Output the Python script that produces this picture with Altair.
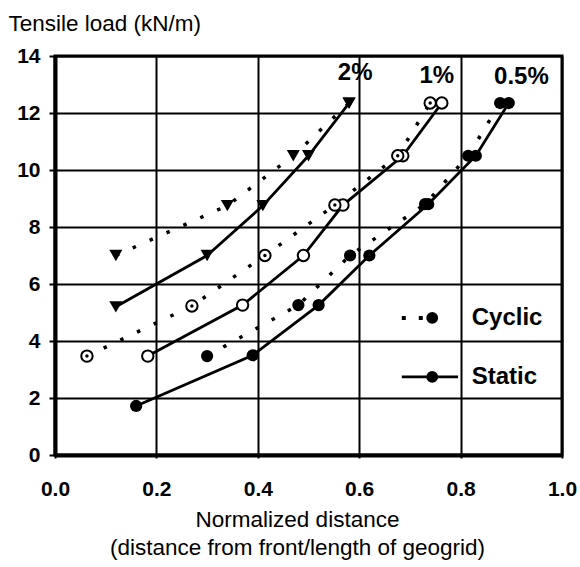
import altair as alt
import pandas as pd

# ---- data ----
# Static tests (solid lines)
static_2_x = [0.12, 0.30, 0.41, 0.50, 0.58]
static_2_y = [5.2, 7.0, 8.75, 10.5, 12.35]
static_1_x = [0.183, 0.37, 0.49, 0.568, 0.686, 0.763]
static_1_y = [3.47, 5.26, 7.0, 8.77, 10.5, 12.35]
static_05_x = [0.16, 0.39, 0.52, 0.62, 0.736, 0.83, 0.895]
static_05_y = [1.72, 3.5, 5.26, 7.0, 8.8, 10.5, 12.35]

# Cyclic tests (dotted lines)
cyclic_2_x = [0.12, 0.34, 0.47, 0.58]
cyclic_2_y = [7.0, 8.75, 10.5, 12.35]
cyclic_1_x = [0.063, 0.27, 0.414, 0.552, 0.676, 0.74]
cyclic_1_y = [3.47, 5.23, 7.0, 8.77, 10.5, 12.35]
cyclic_05_x = [0.30, 0.48, 0.582, 0.73, 0.815, 0.878]
cyclic_05_y = [3.47, 5.26, 7.0, 8.8, 10.5, 12.35]

strain_labels = ["2%", "1%", "0.5%"]
strain_label_x = [0.592, 0.753, 0.92]
strain_label_y = [13.4, 13.3, 13.25]

legend_names = ["Cyclic", "Static"]
legend_y = [4.81, 2.74]
legend_line_x0 = [0.684, 0.684]
legend_line_x1 = [0.744, 0.795]
legend_dot_x = [0.744, 0.744]
legend_text_x = [0.822, 0.822]

x_ticks = [0.0, 0.2, 0.4, 0.6, 0.8, 1.0]
y_ticks = [0, 2, 4, 6, 8, 10, 12, 14]


def frame(name, xs, ys):
    return pd.DataFrame({"series": name, "x": xs, "y": ys, "order": range(len(xs))})


static_df = pd.concat([
    frame("s2", static_2_x, static_2_y),
    frame("s1", static_1_x, static_1_y),
    frame("s05", static_05_x, static_05_y),
])
cyclic_df = pd.concat([
    frame("c2", cyclic_2_x, cyclic_2_y),
    frame("c1", cyclic_1_x, cyclic_1_y),
    frame("c05", cyclic_05_x, cyclic_05_y),
])

FONT = "Liberation Sans"

xs = alt.Scale(domain=[0, 1], nice=False, zero=False)
ys = alt.Scale(domain=[0, 14], nice=False, zero=False)

X = alt.X("x:Q", scale=xs, axis=alt.Axis(
    values=x_ticks, format=".1f", grid=True, gridColor="black", gridWidth=2,
    domain=True, domainColor="black", domainWidth=4,
    tickColor="black", tickSize=3, tickWidth=2,
    labelFont=FONT, labelFontSize=21, labelFontWeight="bold", labelColor="black",
    labelPadding=20, labelBaseline="top", labelFlush=False,
    title=["Normalized distance", "(distance from front/length of geogrid)"],
    titleFont=FONT, titleFontSize=22.5, titleFontWeight="normal", titleColor="black",
    titleX=242, titleY=53, titleAlign="center", titleBaseline="top", titleLineHeight=28,
))
Y = alt.Y("y:Q", scale=ys, axis=alt.Axis(
    values=y_ticks, grid=True, gridColor="black", gridWidth=2,
    domain=True, domainColor="black", domainWidth=4,
    tickColor="black", tickSize=6, tickWidth=2,
    labelFont=FONT, labelFontSize=21, labelFontWeight="bold", labelColor="black",
    labelPadding=9, labelFlush=False,
    title="Tensile load (kN/m)", titleFont=FONT, titleFontSize=22.5,
    titleFontWeight="normal", titleColor="black", titleAngle=0,
    titleX=-47, titleY=-33, titleAlign="left", titleBaseline="middle",
))

base_s = alt.Chart(static_df)
base_c = alt.Chart(cyclic_df)

static_lines = base_s.mark_line(color="black", strokeWidth=2.8).encode(
    x=X, y=Y, detail="series:N", order="order:Q")
cyclic_lines = base_c.mark_line(color="black", strokeWidth=3.5, strokeDash=[3.5, 15]).encode(
    x="x:Q", y="y:Q", detail="series:N", order="order:Q")

tri = alt.Chart(pd.concat([frame("s2", static_2_x, static_2_y),
                           frame("c2", cyclic_2_x, cyclic_2_y)])).mark_point(
    shape="triangle-down", filled=True, color="black", size=170, opacity=1).encode(x="x:Q", y="y:Q")

open_c = alt.Chart(pd.concat([frame("s1", static_1_x, static_1_y),
                              frame("c1", cyclic_1_x, cyclic_1_y)])).mark_point(
    shape="circle", filled=True, fill="white", stroke="black", strokeWidth=2, size=130,
    opacity=1).encode(x="x:Q", y="y:Q")
dot_c = alt.Chart(frame("c1", cyclic_1_x, cyclic_1_y)).mark_point(
    shape="circle", filled=True, color="black", size=12, opacity=1).encode(x="x:Q", y="y:Q")

full_c = alt.Chart(pd.concat([frame("s05", static_05_x, static_05_y),
                              frame("c05", cyclic_05_x, cyclic_05_y)])).mark_point(
    shape="circle", filled=True, color="black", size=150, opacity=1).encode(x="x:Q", y="y:Q")

lab_df = pd.DataFrame({"t": strain_labels, "x": strain_label_x, "y": strain_label_y})
labels = alt.Chart(lab_df).mark_text(font=FONT, fontSize=24, fontWeight="bold",
                                     color="black", align="center", baseline="middle").encode(
    x="x:Q", y="y:Q", text="t:N")

leg_df = pd.DataFrame({"name": legend_names, "y": legend_y, "x0": legend_line_x0,
                       "x1": legend_line_x1, "xd": legend_dot_x, "xt": legend_text_x})
leg_cyc = alt.Chart(leg_df[leg_df.name == "Cyclic"]).mark_rule(
    color="black", strokeWidth=4, strokeDash=[4, 13]).encode(x="x0:Q", x2="x1:Q", y="y:Q")
leg_sta = alt.Chart(leg_df[leg_df.name == "Static"]).mark_rule(
    color="black", strokeWidth=2.8).encode(x="x0:Q", x2="x1:Q", y="y:Q")
leg_dot = alt.Chart(leg_df).mark_point(shape="circle", filled=True, color="black",
                                       size=140, opacity=1).encode(x="xd:Q", y="y:Q")
leg_txt = alt.Chart(leg_df).mark_text(font=FONT, fontSize=24, fontWeight="bold",
                                      color="black", align="left", baseline="middle").encode(
    x="xt:Q", y="y:Q", text="name:N")

chart = alt.layer(
    static_lines, cyclic_lines, tri, open_c, dot_c, full_c, labels,
    leg_cyc, leg_sta, leg_dot, leg_txt,
).properties(
    width=507, height=399,
    autosize=alt.AutoSizeParams(type="none"),
    padding={"left": 55, "top": 56, "right": 18, "bottom": 112},
    background="white",
).configure_view(stroke="black", strokeWidth=3)

chart.save("out.html", embed_options={"renderer": "svg", "actions": False})
